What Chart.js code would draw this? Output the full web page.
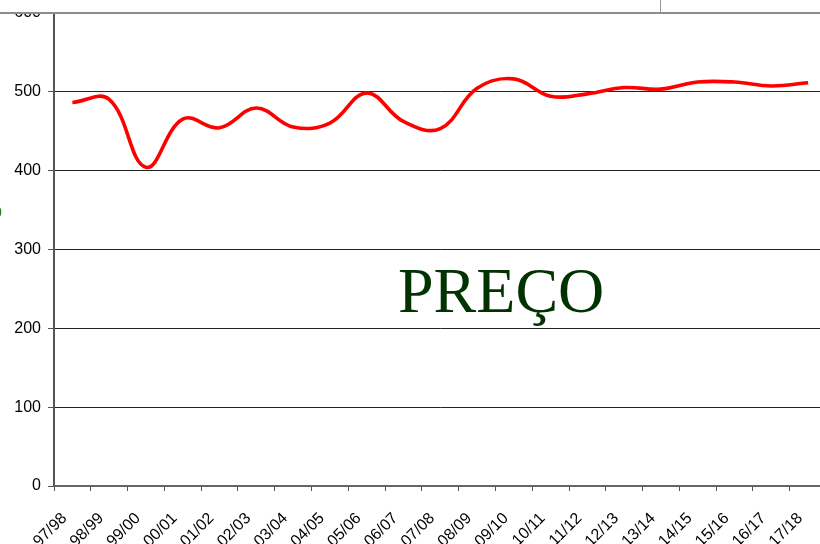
<!DOCTYPE html>
<html>
<head>
<meta charset="utf-8">
<script src="https://cdn.jsdelivr.net/npm/chart.js@4/dist/chart.umd.min.js"></script>
<style>
  html, body { margin: 0; padding: 0; background: #fff; }
  #wrap { position: relative; width: 820px; height: 544px; overflow: hidden; background: #fff; }
  #c { position: absolute; left: 0; top: -20px; }
  #topbox { position: absolute; left: 0; top: 0; width: 820px; height: 12px; background: #fff; border-bottom: 2px solid #8c8c8c; }
  #vline { position: absolute; left: 660px; top: 0; width: 1px; height: 13px; background: #9a9a9a; }
  #title { position: absolute; left: 398px; top: 259px; font-family: "Liberation Serif", "Times New Roman", serif; font-size: 64px; color: #003300; line-height: 1; white-space: nowrap; }
  #frag { position: absolute; left: -10px; top: 200px; font-family: "Liberation Sans", Arial, sans-serif; font-size: 22px; color: #2f7a2f; line-height: 1; }
</style>
</head>
<body>
<div id="wrap">
  <canvas id="c" width="840" height="564"></canvas>
  <div id="topbox"></div>
  <div id="vline"></div>
  <div id="title">PREÇO</div>
  <div id="frag">o</div>
</div>
<script>
const categories = ["97/98","98/99","99/00","00/01","01/02","02/03","03/04","04/05","05/06","06/07","07/08","08/09","09/10","10/11","11/12","12/13","13/14","14/15","15/16","16/17","17/18"];
const precoValues = [486, 490, 404, 465, 454, 479, 455, 460, 498, 462, 453, 504, 516, 494, 497, 505, 503, 512, 512, 507, 511];
const yTickValues = [0, 100, 200, 300, 400, 500, 600];

new Chart(document.getElementById('c'), {
  type: 'line',
  data: {
    labels: categories,
    datasets: [{
      label: 'PREÇO',
      data: precoValues,
      borderColor: '#ff0000',
      borderWidth: 3.6,
      pointRadius: 0,
      tension: 0.4,
      fill: false
    }]
  },
  options: {
    responsive: false,
    animation: false,
    devicePixelRatio: 1,
    layout: { padding: { top: 32.6, right: 12, left: 0, bottom: 0 } },
    plugins: { legend: { display: false }, tooltip: { enabled: false } },
    scales: {
      x: {
        offset: true,
        grid: { offset: true, drawOnChartArea: false, drawTicks: true, tickLength: 5, color: '#555', tickWidth: 1 },
        border: { color: '#666', width: 2 },
        ticks: {
          autoSkip: false, minRotation: 45, maxRotation: 45, padding: 18, labelOffset: -8,
          color: '#000', font: { family: 'Liberation Sans, Arial, sans-serif', size: 16 }
        },
        afterFit: (s) => { s.height = 58; }
      },
      y: {
        min: 0, max: 600,
        afterBuildTicks: (s) => { s.ticks = yTickValues.map(v => ({ value: v })); },
        grid: { color: '#222', lineWidth: 1, drawTicks: true, tickLength: 6, tickColor: '#555' },
        border: { color: '#555', width: 2 },
        ticks: {
          padding: 7, color: '#000',
          font: { family: 'Liberation Sans, Arial, sans-serif', size: 16 }
        },
        afterFit: (s) => { s.width = 54; }
      }
    }
  }
});
</script>
</body>
</html>
